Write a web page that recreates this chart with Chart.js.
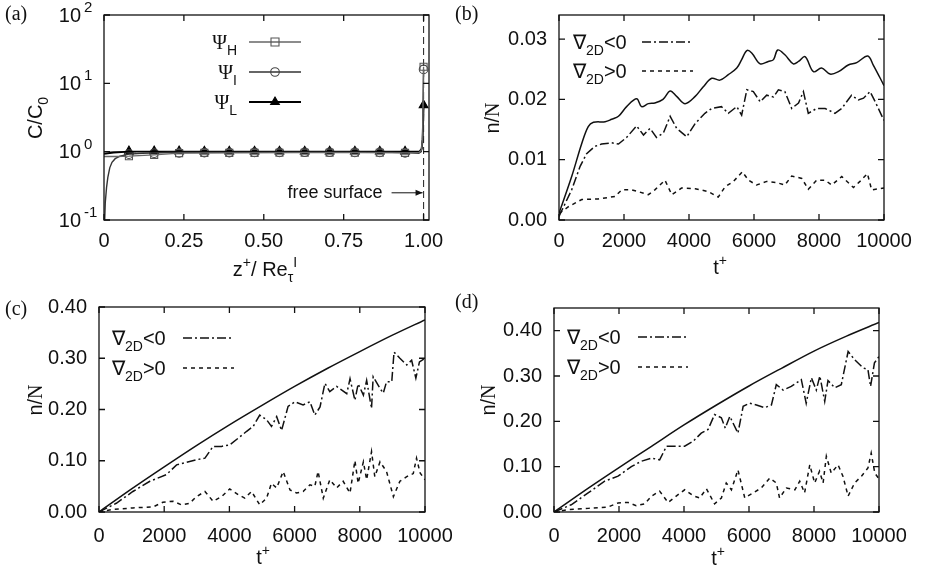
<!DOCTYPE html>
<html>
<head>
<meta charset="utf-8">
<script src="https://cdn.jsdelivr.net/npm/chart.js@4.4.0/dist/chart.umd.min.js"></script>
<style>
  html, body { margin: 0; padding: 0; background: #fff; }
  #wrap { position: relative; width: 925px; height: 576px; overflow: hidden; }
  canvas { position: absolute; }
</style>
</head>
<body>
<div id="wrap">
  <canvas id="chartA" width="452" height="290" style="left:0;top:0"></canvas>
  <canvas id="chartB" width="473" height="290" style="left:452px;top:0"></canvas>
  <canvas id="chartC" width="452" height="286" style="left:0;top:290px"></canvas>
  <canvas id="chartD" width="473" height="286" style="left:452px;top:290px"></canvas>
</div>
<script>
const SANS = '"Liberation Sans", Arial, sans-serif';
const SERIF = '"Liberation Serif", "Times New Roman", serif';
const INK = '#111';

// ---- (a) concentration profiles C/C0 vs z+/Re_tau ----
const tickA_x = [0, 0.25, 0.5, 0.75, 1.0];
const tickA_y = [0.1, 1, 10, 100];
const expA_y = ['-1', '0', '1', '2'];
const profH = [[0,0.85],[0.04,0.85],[0.078,0.86],[0.157,0.9],[0.235,0.95],[0.4,0.96],[0.6,0.965],[0.8,0.965],[0.95,0.96],[0.986,0.97],[0.993,1.05],[0.997,1.6],[1.0,17.5]];
const profI = [[0.0015,0.08],[0.004,0.18],[0.008,0.3],[0.012,0.42],[0.018,0.58],[0.025,0.7],[0.035,0.79],[0.05,0.86],[0.078,0.92],[0.12,0.95],[0.2,0.97],[0.4,0.975],[0.7,0.98],[0.9,0.975],[0.96,0.96],[0.985,0.95],[0.993,1.0],[0.997,1.5],[1.0,16]];
const profL = [[0,0.93],[0.03,0.97],[0.078,1.0],[0.157,1.0],[0.3,1.0],[0.6,1.0],[0.9,1.0],[0.988,1.01],[0.994,1.1],[0.997,1.5],[1.0,4.8]];
const profW = [[0,1.0],[0.05,1.0],[0.1,0.99]];
const markZ = [0.078,0.157,0.235,0.314,0.392,0.471,0.549,0.628,0.706,0.785,0.863,0.942,1.0];
const markH = [0.86,0.9,0.95,0.96,0.96,0.96,0.965,0.965,0.965,0.965,0.965,0.96,17.5];
const markI = [0.92,0.95,0.96,0.97,0.97,0.975,0.975,0.98,0.98,0.975,0.975,0.96,16];
const markL = [1.02,1.02,1.02,1.01,1.01,1.01,1.01,1.01,1.01,1.01,1.01,1.01,4.8];
const surfaceZ = 1.0;

// ---- (b)-(d) fraction n/N vs t+ ----
const tickT = [0, 2000, 4000, 6000, 8000, 10000];
const tickB_y = [0, 0.01, 0.02, 0.03];
const tickC_y = [0, 0.1, 0.2, 0.3, 0.4];
const tickD_y = [0, 0.1, 0.2, 0.3, 0.4];

const totalB = [[0,0.0011],[390,0.0072],[700,0.0127],[900,0.0155],[1060,0.0162],[1420,0.0163],[1620,0.0167],[1830,0.0172],[2080,0.0188],[2390,0.0201],[2540,0.0188],[2750,0.0193],[2950,0.0194],[3200,0.0200],[3420,0.0214],[3620,0.0205],[3880,0.0193],[4190,0.0205],[4440,0.0221],[4700,0.0235],[4950,0.0232],[5210,0.0241],[5470,0.0252],[5620,0.0266],[5780,0.0281],[5930,0.0277],[6190,0.0259],[6440,0.0263],[6600,0.0266],[6730,0.0282],[6950,0.0274],[7210,0.0259],[7370,0.0263],[7570,0.0271],[7830,0.0246],[8080,0.0252],[8340,0.0242],[8600,0.0246],[8900,0.0257],[9160,0.0261],[9500,0.0272],[9670,0.0257],[10000,0.0223]];
const negB = [[0,0.0006],[390,0.005],[650,0.0089],[850,0.011],[1100,0.0122],[1310,0.0126],[1620,0.0128],[1830,0.0126],[2080,0.0137],[2390,0.0156],[2600,0.0141],[2800,0.0152],[3000,0.0137],[3210,0.0144],[3420,0.0172],[3620,0.0152],[3930,0.0138],[4190,0.016],[4490,0.0177],[4700,0.0185],[5000,0.0188],[5210,0.0177],[5470,0.0188],[5620,0.0174],[5780,0.0216],[5980,0.0213],[6190,0.0196],[6390,0.0207],[6600,0.0204],[6750,0.0216],[6950,0.0213],[7160,0.0185],[7370,0.0194],[7520,0.0213],[7670,0.0177],[7930,0.0185],[8190,0.0185],[8490,0.0177],[8700,0.0185],[9000,0.0207],[9210,0.0199],[9370,0.0202],[9570,0.0213],[9730,0.0196],[10000,0.0165]];
const posB = [[0,0.0011],[290,0.0022],[700,0.0034],[1210,0.0035],[1720,0.0039],[1930,0.005],[2240,0.005],[2440,0.0047],[2750,0.0042],[2950,0.005],[3260,0.0066],[3470,0.0042],[3770,0.0053],[4190,0.0052],[4600,0.0047],[4900,0.0038],[5110,0.0055],[5370,0.0064],[5640,0.008],[5830,0.0066],[6080,0.0058],[6390,0.0064],[6700,0.0062],[6950,0.0058],[7160,0.0073],[7470,0.0069],[7670,0.0051],[7930,0.0066],[8190,0.0066],[8390,0.0058],[8700,0.0072],[9060,0.0054],[9260,0.0064],[9490,0.0077],[9620,0.005],[10000,0.0053]];

const totalC = [[0,0],[1000,0.045],[2000,0.088],[3000,0.13],[4000,0.17],[5000,0.208],[6000,0.245],[7000,0.28],[8000,0.313],[9000,0.345],[10000,0.375]];
const negC = [[0,0],[530,0.017],[1040,0.04],[1560,0.06],[2070,0.073],[2380,0.092],[2680,0.097],[2990,0.102],[3250,0.105],[3500,0.128],[3760,0.128],[4010,0.131],[4270,0.144],[4520,0.157],[4730,0.167],[4930,0.189],[5140,0.18],[5290,0.167],[5450,0.186],[5600,0.159],[5800,0.206],[6010,0.215],[6260,0.209],[6470,0.215],[6620,0.189],[6780,0.205],[6930,0.251],[7080,0.235],[7290,0.245],[7600,0.231],[7700,0.26],[7850,0.218],[7950,0.25],[8110,0.228],[8210,0.257],[8360,0.202],[8410,0.264],[8620,0.241],[8720,0.232],[8820,0.254],[8980,0.254],[9050,0.312],[9230,0.30],[9440,0.287],[9590,0.296],[9720,0.261],[9830,0.293],[10000,0.30]];
const posC = [[0,0],[430,0.005],[1040,0.008],[1660,0.01],[1960,0.019],[2270,0.021],[2530,0.014],[2780,0.017],[2990,0.03],[3250,0.04],[3500,0.021],[3760,0.03],[4010,0.045],[4270,0.034],[4470,0.027],[4680,0.04],[4930,0.014],[5140,0.027],[5290,0.056],[5450,0.047],[5650,0.079],[5860,0.043],[6060,0.037],[6260,0.04],[6470,0.053],[6620,0.05],[6720,0.079],[6880,0.027],[7080,0.063],[7290,0.047],[7490,0.06],[7700,0.037],[7850,0.10],[7950,0.056],[8110,0.098],[8210,0.063],[8360,0.118],[8460,0.069],[8620,0.098],[8820,0.079],[9030,0.03],[9230,0.06],[9440,0.069],[9640,0.075],[9740,0.105],[9850,0.076],[10000,0.063]];

const totalD = [[0,0],[1000,0.05],[2000,0.098],[3000,0.145],[4000,0.192],[5000,0.236],[6000,0.278],[7000,0.317],[8000,0.355],[9000,0.388],[10000,0.418]];
const negD = [[0,0],[530,0.016],[1050,0.042],[1560,0.068],[1970,0.079],[2380,0.10],[2690,0.112],[3000,0.119],[3250,0.115],[3460,0.145],[3710,0.145],[4020,0.145],[4280,0.156],[4530,0.174],[4740,0.182],[4940,0.215],[5150,0.208],[5270,0.185],[5410,0.211],[5660,0.174],[5820,0.233],[6020,0.24],[6230,0.236],[6480,0.23],[6690,0.236],[6840,0.281],[7050,0.269],[7300,0.277],[7610,0.292],[7760,0.24],[7920,0.296],[8070,0.269],[8180,0.30],[8330,0.244],[8430,0.29],[8640,0.274],[8840,0.281],[9050,0.354],[9250,0.336],[9510,0.318],[9660,0.314],[9740,0.277],[9860,0.329],[10000,0.343]];
const posD = [[0,0],[430,0.005],[1050,0.008],[1660,0.011],[1970,0.02],[2280,0.021],[2530,0.014],[2790,0.018],[3000,0.035],[3250,0.046],[3510,0.021],[3760,0.035],[4020,0.049],[4280,0.036],[4480,0.031],[4690,0.051],[4940,0.018],[5150,0.031],[5300,0.064],[5460,0.049],[5660,0.093],[5870,0.031],[6120,0.042],[6380,0.053],[6640,0.075],[6840,0.064],[6940,0.031],[7150,0.053],[7410,0.049],[7560,0.068],[7710,0.042],[7870,0.104],[8020,0.064],[8170,0.09],[8280,0.064],[8380,0.123],[8530,0.086],[8740,0.104],[8890,0.079],[9050,0.035],[9250,0.064],[9460,0.079],[9660,0.097],[9760,0.13],[9870,0.086],[10000,0.073]];

const DASHDOT = [9, 3, 2, 3];
const DASHED = [4, 4];

const pts = arr => arr.map(([x, y]) => ({x, y}));
const ptsZ = (zs, vs) => zs.map((x, i) => ({x, y: vs[i]}));

function line(data, dash, extra) {
  return Object.assign({type: 'line', data: pts(data), borderColor: INK, borderWidth: 1.5,
    borderDash: dash || [], pointRadius: 0, tension: 0, fill: false}, extra || {});
}

function marks(vals, style, r, color, fill) {
  return {type: 'line', data: ptsZ(markZ, vals), showLine: false, pointStyle: style, pointRadius: r,
    borderColor: color, backgroundColor: fill, pointBorderColor: color, pointBackgroundColor: fill,
    pointBorderWidth: 1.1, borderWidth: 1.1};
}

// draws text made of pieces: [text, 'sub'|'sup'|'', fontFamily]
function rich(ctx, x, y, parts, size, align) {
  ctx.save();
  ctx.textBaseline = 'alphabetic';
  ctx.textAlign = 'left';
  const segs = parts.map(p => {
    const k = p[1] || '';
    const fs = k ? Math.round(size * 0.7) : size;
    const font = fs + 'px ' + (p[2] || SANS);
    ctx.font = font;
    return {t: p[0], k, font, w: ctx.measureText(p[0]).width};
  });
  const total = segs.reduce((s, g) => s + g.w, 0);
  let cx = align === 'center' ? x - total / 2 : align === 'right' ? x - total : x;
  const base = y + size * 0.36;
  segs.forEach(g => {
    ctx.font = g.font;
    const dy = g.k === 'sub' ? size * 0.3 : g.k === 'sup' ? -size * 0.45 : 0;
    ctx.fillText(g.t, cx, base + dy);
    cx += g.w;
  });
  ctx.restore();
}

function marker(ctx, style, r, x, y) {
  ctx.beginPath();
  if (style === 'rect') ctx.rect(x - r * 0.8, y - r * 0.8, 1.6 * r, 1.6 * r);
  else if (style === 'triangle') { ctx.moveTo(x, y - r); ctx.lineTo(x + r * 0.87, y + r * 0.5); ctx.lineTo(x - r * 0.87, y + r * 0.5); ctx.closePath(); }
  else ctx.arc(x, y, r, 0, Math.PI * 2);
  ctx.fill();
  ctx.stroke();
}

const deco = {
  id: 'deco',
  afterDraw(chart, args, o) {
    const ctx = chart.ctx, a = chart.chartArea, xs = chart.scales.x, ys = chart.scales.y;
    ctx.save();
    ctx.strokeStyle = INK; ctx.lineWidth = 1.3; ctx.setLineDash([]);
    ctx.strokeRect(a.left, a.top, a.right - a.left, a.bottom - a.top);
    // gnuplot style inward ticks on all sides
    ctx.beginPath();
    xs.ticks.forEach(t => {
      const p = xs.getPixelForValue(t.value);
      ctx.moveTo(p, a.bottom); ctx.lineTo(p, a.bottom - 6);
      ctx.moveTo(p, a.top); ctx.lineTo(p, a.top + 6);
    });
    ys.ticks.forEach(t => {
      const p = ys.getPixelForValue(t.value);
      ctx.moveTo(a.left, p); ctx.lineTo(a.left + 6, p);
      ctx.moveTo(a.right, p); ctx.lineTo(a.right - 6, p);
    });
    ctx.stroke();

    ctx.fillStyle = INK;
    ctx.font = '20px ' + SERIF; ctx.textBaseline = 'middle'; ctx.textAlign = 'left';
    ctx.fillText(o.tag, o.tagX, o.tagY);

    if (o.expLabels) {
      ys.ticks.forEach((t, i) => {
        const p = ys.getPixelForValue(t.value);
        ctx.font = '20px ' + SANS; ctx.textAlign = 'right'; ctx.textBaseline = 'middle';
        ctx.fillText('10', o.expX, p + 1);
        ctx.font = '15px ' + SANS; ctx.textAlign = 'left';
        ctx.fillText(o.expLabels[i], o.expX + 3, p - 7);
      });
    }

    rich(ctx, o.xTitle.x, o.xTitle.y, o.xTitle.parts, 20, 'center');
    ctx.save();
    ctx.translate(o.yTitle.x, o.yTitle.y);
    ctx.rotate(-Math.PI / 2);
    rich(ctx, 0, 0, o.yTitle.parts, 20, 'center');
    ctx.restore();

    (o.legend || []).forEach(e => {
      rich(ctx, e.tx, e.y, e.parts, 20, e.align || 'left');
      const ds = chart.data.datasets[e.line];
      ctx.save();
      ctx.strokeStyle = ds.borderColor; ctx.lineWidth = ds.borderWidth;
      ctx.setLineDash(ds.borderDash || []);
      ctx.beginPath(); ctx.moveTo(e.x0, e.y); ctx.lineTo(e.x1, e.y); ctx.stroke();
      if (e.mark != null) {
        const m = chart.data.datasets[e.mark];
        ctx.setLineDash([]);
        ctx.strokeStyle = m.pointBorderColor; ctx.fillStyle = m.pointBackgroundColor; ctx.lineWidth = m.pointBorderWidth;
        marker(ctx, m.pointStyle, m.pointRadius, (e.x0 + e.x1) / 2, e.y);
      }
      ctx.restore();
    });

    if (o.arrow) {
      const xe = xs.getPixelForValue(o.arrow.x) - 1, y = ys.getPixelForValue(o.arrow.y);
      const xb = xe - 31;
      ctx.strokeStyle = INK; ctx.lineWidth = 1; ctx.setLineDash([]);
      ctx.beginPath(); ctx.moveTo(xb, y); ctx.lineTo(xe, y); ctx.stroke();
      ctx.beginPath(); ctx.moveTo(xe, y); ctx.lineTo(xe - 7, y - 3); ctx.lineTo(xe - 7, y + 3); ctx.closePath(); ctx.fillStyle = INK; ctx.fill();
      ctx.font = '18px ' + SANS; ctx.textAlign = 'right'; ctx.textBaseline = 'middle';
      ctx.fillText(o.arrow.text, xb - 9, y);
    }
    ctx.restore();
  }
};

function scales(o) {
  const font = {family: SANS, size: 20};
  return {
    x: {type: 'linear', min: o.xMin, max: o.xMax,
      afterBuildTicks: s => { s.ticks = o.xTicks.map(v => ({value: v})); },
      afterFit: s => { s.height = o.xFit; s.paddingLeft = 0; s.paddingRight = 0; },
      grid: {display: false, drawTicks: false}, border: {display: false},
      ticks: {color: INK, font, padding: o.xPad, maxRotation: 0, autoSkip: false, callback: o.xFmt}},
    y: {type: o.yType || 'linear', min: o.yMin, max: o.yMax,
      afterBuildTicks: s => { s.ticks = o.yTicks.map(v => ({value: v})); },
      afterFit: s => { s.width = o.yFit; s.paddingTop = 0; s.paddingBottom = 0; },
      grid: {display: false, drawTicks: false}, border: {display: false},
      ticks: {display: !o.yHide, color: INK, font, padding: 12, autoSkip: false, callback: o.yFmt}}
  };
}

function makeChart(id, datasets, sc, pad, decoOpts) {
  return new Chart(document.getElementById(id), {
    data: {datasets},
    options: {
      responsive: false, animation: false, devicePixelRatio: 1,
      layout: {padding: pad},
      plugins: {legend: {display: false}, tooltip: {enabled: false}, deco: decoOpts},
      scales: scales(sc)
    },
    plugins: [deco]
  });
}

const fmt2 = v => Number(v).toFixed(2);
const fmtT = v => String(v);
const nabla = (sign) => [['\u2207', ''], ['2D', 'sub'], [sign + '0', '']];
const nOverN = [['n/', ''], ['N', '', SERIF]];
const tPlus = [['t', ''], ['+', 'sup']];

// (a)
makeChart('chartA', [
  line(profH, [], {borderColor: '#666', borderWidth: 1.3}),
  line(profI, [], {borderColor: '#333', borderWidth: 1.4}),
  line(profL, [], {borderColor: '#000', borderWidth: 1.9}),
  marks(markH, 'rect', 5, '#555', 'rgba(255,255,255,0)'),
  marks(markI, 'circle', 4.3, '#444', 'rgba(255,255,255,0)'),
  marks(markL, 'triangle', 5, '#000', '#000'),
  line([[surfaceZ, 0.1], [surfaceZ, 100]], [7, 4], {borderColor: '#333', borderWidth: 1.1}),
  line(profW, [], {borderColor: '#888', borderWidth: 1})
], {xMin: 0, xMax: 1.017, xTicks: tickA_x, xFit: 70, xPad: 9, xFmt: v => v === 0 ? '0' : Number(v).toFixed(2),
    yType: 'logarithmic', yMin: 0.1, yMax: 100, yTicks: tickA_y, yFit: 104, yHide: true},
  {top: 15, right: 23, left: 0, bottom: 0},
  {tag: '(a)', tagX: 5, tagY: 15, expLabels: expA_y, expX: 81,
   xTitle: {x: 265, y: 269, parts: [['z', ''], ['+', 'sup'], ['/ Re', ''], ['\u03c4', 'sub'], ['I', 'sup']]},
   yTitle: {x: 35, y: 118, parts: [['C/C', ''], ['0', 'sub']]},
   legend: [
     {tx: 237, y: 42, parts: [['\u03a8', '', SERIF], ['H', 'sub']], align: 'right', x0: 249, x1: 301, line: 0, mark: 3},
     {tx: 237, y: 72, parts: [['\u03a8', '', SERIF], ['I', 'sub']], align: 'right', x0: 249, x1: 301, line: 1, mark: 4},
     {tx: 237, y: 102, parts: [['\u03a8', '', SERIF], ['L', 'sub']], align: 'right', x0: 249, x1: 301, line: 2, mark: 5}
   ],
   arrow: {x: surfaceZ, y: 0.25, text: 'free surface'}});

// (b)
makeChart('chartB', [
  line(totalB, [], {tension: 0.35}),
  line(negB, DASHDOT),
  line(posB, DASHED)
], {xMin: 0, xMax: 10000, xTicks: tickT, xFit: 70, xPad: 9, xFmt: fmtT,
    yMin: 0, yMax: 0.034, yTicks: tickB_y, yFit: 107, yFmt: fmt2},
  {top: 15, right: 41, left: 0, bottom: 0},
  {tag: '(b)', tagX: 3, tagY: 15,
   xTitle: {x: 268, y: 267, parts: tPlus},
   yTitle: {x: 40, y: 118, parts: nOverN},
   legend: [
     {tx: 121, y: 42, parts: nabla('<'), x0: 190, x1: 241, line: 1},
     {tx: 121, y: 71, parts: nabla('>'), x0: 190, x1: 241, line: 2}
   ]});

// (c)
makeChart('chartC', [
  line(totalC, [], {tension: 0.3}),
  line(negC, DASHDOT),
  line(posC, DASHED)
], {xMin: 0, xMax: 10000, xTicks: tickT, xFit: 64, xPad: 12, xFmt: fmtT,
    yMin: 0, yMax: 0.4, yTicks: tickC_y, yFit: 99, yFmt: fmt2},
  {top: 17, right: 27, left: 0, bottom: 0},
  {tag: '(c)', tagX: 5, tagY: 20,
   xTitle: {x: 263, y: 267, parts: tPlus},
   yTitle: {x: 35, y: 110, parts: nOverN},
   legend: [
     {tx: 112, y: 48, parts: nabla('<'), x0: 183, x1: 234, line: 1},
     {tx: 112, y: 78, parts: nabla('>'), x0: 183, x1: 234, line: 2}
   ]});

// (d)
makeChart('chartD', [
  line(totalD, [], {tension: 0.3}),
  line(negD, DASHDOT),
  line(posD, DASHED)
], {xMin: 0, xMax: 10000, xTicks: tickT, xFit: 64, xPad: 12, xFmt: fmtT,
    yMin: 0, yMax: 0.45, yTicks: tickD_y, yFit: 102, yFmt: fmt2},
  {top: 18, right: 46, left: 0, bottom: 0},
  {tag: '(d)', tagX: 3, tagY: 13,
   xTitle: {x: 266, y: 268, parts: tPlus},
   yTitle: {x: 36, y: 110, parts: nOverN},
   legend: [
     {tx: 115, y: 47, parts: nabla('<'), x0: 186, x1: 236, line: 1},
     {tx: 115, y: 77, parts: nabla('>'), x0: 186, x1: 236, line: 2}
   ]});
</script>
</body>
</html>
